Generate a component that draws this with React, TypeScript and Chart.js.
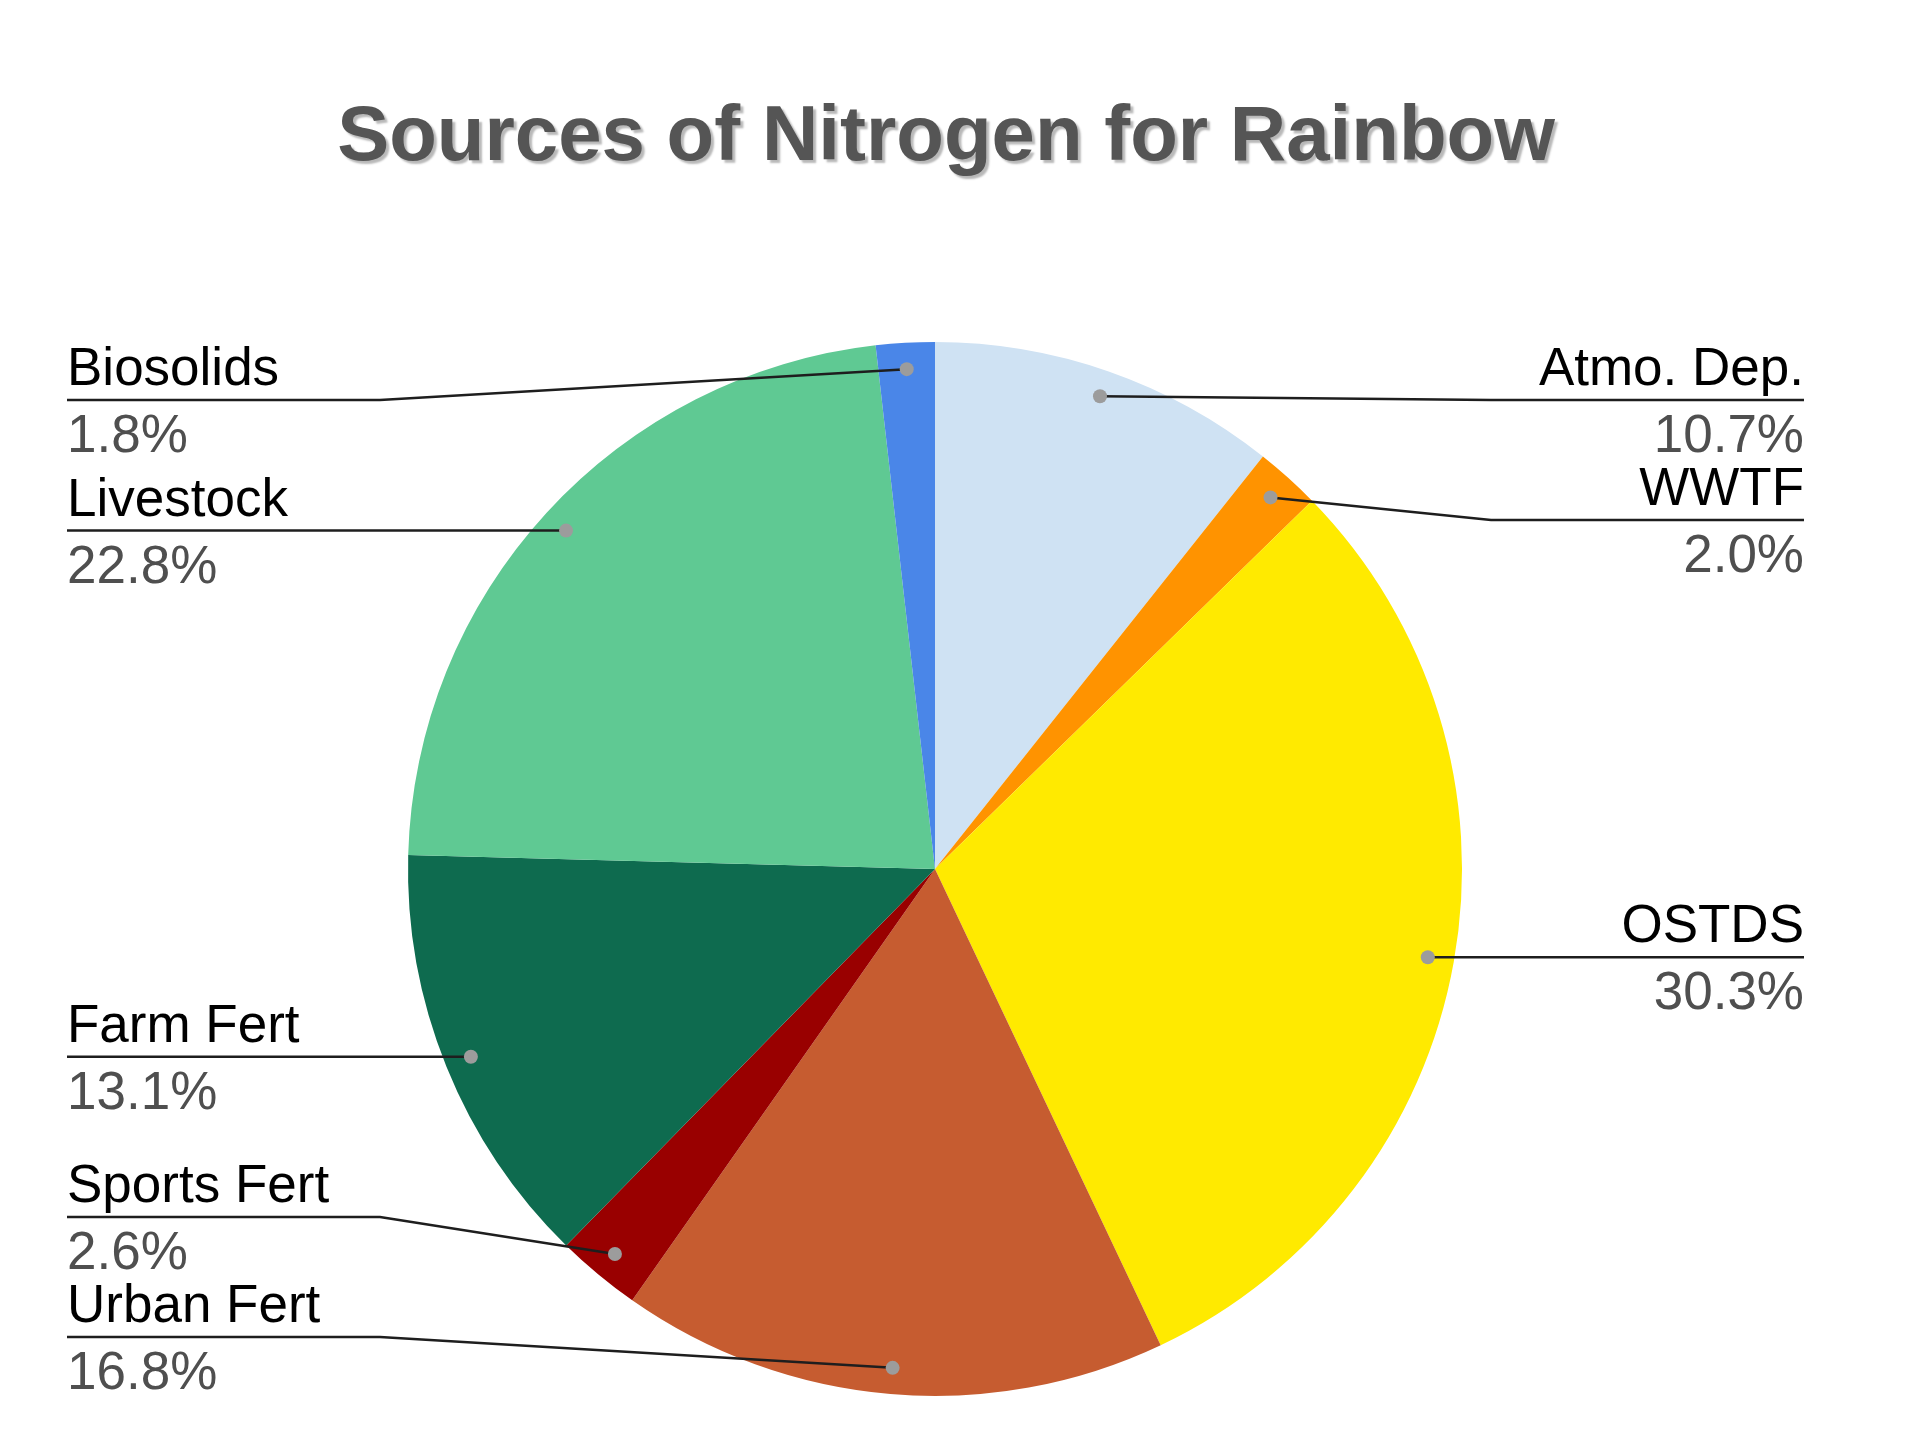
import React, { useEffect, useRef } from 'react';
import Chart from 'chart.js/auto';

// Data
const titleText = 'Sources of Nitrogen for Rainbow';
const sources = ['Atmo. Dep.', 'WWTF', 'OSTDS', 'Urban Fert', 'Sports Fert', 'Farm Fert', 'Livestock', 'Biosolids'];
const shares = [10.7, 2.0, 30.3, 16.8, 2.6, 13.1, 22.8, 1.8];
const sliceColors = ['#cfe2f3', '#ff9300', '#ffea00', '#c65c30', '#990000', '#0e6b4f', '#5fc993', '#4a86e8'];

const FONT = "'Liberation Sans', Arial, Helvetica, sans-serif";

// Title with a soft drop shadow (the built-in title squeezes text into the padded area)
const shadowTitle = {
    id: 'shadowTitle',
    afterDraw(chart: Chart) {
        const ctx = chart.ctx;
        ctx.save();
        ctx.font = `bold 78px ${FONT}`;
        ctx.textAlign = 'center';
        ctx.textBaseline = 'alphabetic';
        ctx.shadowColor = 'rgba(0,0,0,0.28)';
        ctx.shadowOffsetX = 3;
        ctx.shadowOffsetY = 3;
        ctx.shadowBlur = 2;
        ctx.fillStyle = '#555555';
        ctx.fillText(titleText, 946, 160);
        ctx.restore();
    },
};

// Leader lines with name above and percent below the line
const calloutLabels = {
    id: 'calloutLabels',
    afterDraw(chart: Chart) {
        const ctx = chart.ctx;
        const meta = chart.getDatasetMeta(0);
        const leftX = 67;
        const rightX = 1804;
        const bendLen = 313;
        const minY = 400;
        const maxY = 1337;
        const gap = 120;

        const items = meta.data.map((arc: any, i: number) => {
            const { x, y, startAngle, endAngle, outerRadius } = arc.getProps(
                ['x', 'y', 'startAngle', 'endAngle', 'outerRadius'],
                true
            );
            const mid = (startAngle + endAngle) / 2;
            const px = x + Math.cos(mid) * outerRadius * 0.95;
            const py = y + Math.sin(mid) * outerRadius * 0.95;
            return { i, px, py, right: Math.cos(mid) > 0, ly: py };
        });

        [true, false].forEach((side) => {
            const group = items.filter((it) => it.right === side).sort((a, b) => a.py - b.py);
            let prev = -Infinity;
            group.forEach((it) => {
                it.ly = Math.max(it.py, minY, prev + gap);
                prev = it.ly;
            });
            let next = Infinity;
            for (let k = group.length - 1; k >= 0; k--) {
                const it = group[k];
                it.ly = Math.min(it.ly, maxY, next - gap);
                next = it.ly;
            }
        });

        ctx.save();
        items.forEach((it) => {
            const edgeX = it.right ? rightX : leftX;
            const bendX = it.right ? rightX - bendLen : leftX + bendLen;

            ctx.strokeStyle = '#1e1e1e';
            ctx.lineWidth = 2.5;
            ctx.beginPath();
            ctx.moveTo(edgeX, it.ly);
            ctx.lineTo(bendX, it.ly);
            ctx.lineTo(it.px, it.py);
            ctx.stroke();

            ctx.fillStyle = '#9c9c9c';
            ctx.beginPath();
            ctx.arc(it.px, it.py, 7, 0, Math.PI * 2);
            ctx.fill();

            ctx.textAlign = it.right ? 'right' : 'left';
            ctx.textBaseline = 'alphabetic';
            ctx.font = `53px ${FONT}`;
            ctx.fillStyle = '#000000';
            ctx.fillText(sources[it.i], edgeX, it.ly - 15);
            ctx.fillStyle = '#4f4f4f';
            ctx.fillText(`${shares[it.i].toFixed(1)}%`, edgeX, it.ly + 52);
        });
        ctx.restore();
    },
};

const PieChart: React.FC = () => {
    const canvasRef = useRef<HTMLCanvasElement>(null);
    const chartRef = useRef<Chart | null>(null);

    useEffect(() => {
        if (!canvasRef.current) return;
        if (chartRef.current) {
            chartRef.current.destroy();
        }

        chartRef.current = new Chart(canvasRef.current, {
            type: 'pie',
            data: {
                labels: sources,
                datasets: [
                    {
                        data: shares,
                        backgroundColor: sliceColors,
                        borderWidth: 0,
                    },
                ],
            },
            options: {
                animation: false,
                responsive: true,
                maintainAspectRatio: false,
                layout: {
                    padding: { left: 408, right: 458, top: 342, bottom: 42 },
                },
                plugins: {
                    legend: { display: false },
                    tooltip: { enabled: false },
                    title: { display: false },
                },
            },
            plugins: [shadowTitle, calloutLabels],
        });

        return () => {
            if (chartRef.current) {
                chartRef.current.destroy();
                chartRef.current = null;
            }
        };
    }, []);

    return (
        <div style={{ position: 'relative', width: 1920, height: 1438 }}>
            <canvas ref={canvasRef} />
        </div>
    );
};

export default function App() {
    useEffect(() => {
        document.body.style.margin = '0';
        document.body.style.background = '#ffffff';
    }, []);

    return <PieChart />;
}
